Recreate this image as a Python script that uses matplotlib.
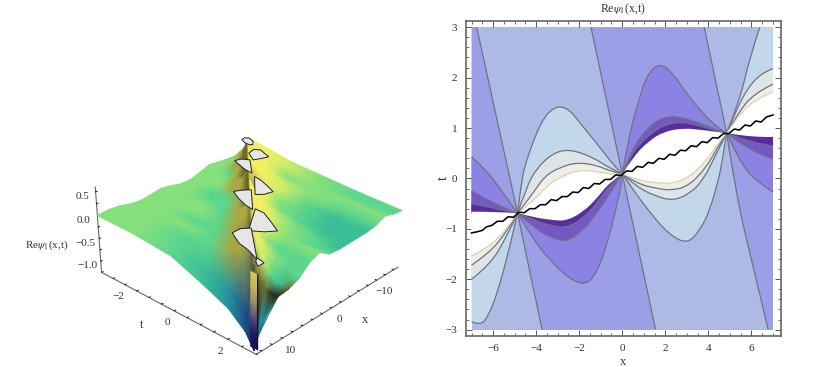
import numpy as np
import matplotlib
matplotlib.use("Agg")
import matplotlib.pyplot as plt
from matplotlib.colors import to_rgb
from matplotlib.path import Path
from matplotlib.patches import PathPatch
from mpl_toolkits.mplot3d import proj3d

plt.rcParams['font.family'] = ['Liberation Serif', 'DejaVu Serif']
plt.rcParams['mathtext.fontset'] = 'stix'
TXT = '#333333'

# ---- left panel: surface heights --------------------------------------
surf_x = [15, 13, 11, 9, 7, 5, 3, 1, -1, -3, -5, -7, -9, -11, -13, -15]
ridge_slope = 0.195
left_f = [0, .25, .5, .7, .85, .95, 1]
right_f = [0, .05, .15, .3, .5, .75, 1]

# t=-3 edge -> ridge
left_z = [
    [0.00, -.02, -.10, -.37, -.60, -.90, -1.20],
    [.02, .00, -.06, -.27, -.45, -.70, -.95],
    [.00, .01, .00, .05, .18, .40, .60],
    [-.06, .02, .02, .05, .15, .40, .60],
    [-.08, .02, .02, .02, .00, -.05, -.05],
    [-.05, .01, .02, .05, .15, .38, .60],
    [-.01, .00, .03, .06, .18, .42, .60],
    [-.05, .04, .03, .03, .04, .08, .10],
    [-.10, .02, .03, .03, .03, .02, .00],
    [-.10, .02, .03, .06, .15, .40, .60],
    [-.03, .01, .04, .08, .20, .42, .60],
    [.05, .04, .05, .06, .08, .10, .10],
    [.02, .04, .05, .08, .12, .18, .25],
    [.00, .03, .06, .12, .22, .42, .60],
    [-.03, .08, .15, .22, .30, .36, .40],
    [.00, .10, .15, .20, .25, .30, .30],
]
left_c = [
    [5, 5, 4, 3, 2, 1, 0],
    [5, 5, 4, 3, 2, 1, 1],
    [5, 5, 4, 4, 8, 8, 9],
    [5, 5, 5, 4, 8, 8, 9],
    [5, 5, 4, 4, 8, 9, 10],
    [5, 5, 5, 4, 8, 8, 9],
    [5, 5, 5, 4, 8, 8, 9],
    [5, 5, 4, 4, 8, 9, 10],
    [5, 5, 4, 4, 8, 9, 10],
    [5, 5, 5, 8, 8, 9, 9],
    [5, 5, 5, 8, 8, 9, 9],
    [5, 5, 4, 8, 9, 9, 10],
    [5, 5, 8, 8, 9, 9, 10],
    [5, 5, 8, 9, 9, 9, 9],
    [5, 8, 8, 9, 9, 9, 9],
    [5, 8, 9, 9, 9, 9, 9],
]
# ridge -> t=3 edge
right_z = [
    [-1.20, -1.20, -1.15, -1.10, -1.05, -1.00, -.95],
    [.30, .00, -.30, -.60, -.75, -.70, -.62],
    [.60, .30, -.10, -.20, -.30, -.33, -.33],
    [.60, .45, .20, .00, -.20, -.30, -.30],
    [.55, .42, .25, .10, -.02, -.10, -.20],
    [.15, .15, .12, .07, .03, .02, .00],
    [.10, .12, .12, .08, .06, .08, .09],
    [.55, .42, .25, .10, .02, -.02, -.05],
    [.60, .42, .25, .10, .02, -.03, -.07],
    [.20, .20, .15, .06, .01, -.03, -.06],
    [.10, .12, .10, .05, .02, -.02, -.05],
    [.55, .42, .25, .10, .03, -.01, -.04],
    [.60, .45, .25, .12, .05, .02, .00],
    [.20, .20, .17, .12, .10, .09, .09],
    [.40, .38, .25, .15, .10, .06, .03],
    [.30, .30, .25, .15, .10, .04, .00],
]
right_c = [
    [0, 0, 0, 0, 1, 1, 1],
    [9, 9, 10, 10, 2, 2, 3],
    [7, 8, 9, 9, 9, 10, 10],
    [7, 7, 6, 6, 4, 3, 9],
    [7, 7, 7, 6, 5, 4, 4],
    [8, 7, 6, 5, 4, 4, 4],
    [8, 7, 7, 6, 5, 5, 5],
    [7, 7, 7, 6, 5, 4, 4],
    [7, 7, 7, 6, 5, 4, 3],
    [8, 7, 7, 5, 4, 3, 3],
    [8, 8, 7, 5, 4, 3, 3],
    [7, 7, 7, 6, 4, 3, 3],
    [7, 7, 7, 6, 5, 4, 4],
    [8, 7, 7, 5, 5, 5, 5],
    [7, 7, 7, 6, 5, 4, 4],
    [7, 7, 7, 6, 5, 4, 4],
]
surf_palette = ['#14124e', '#1c4f86', '#27909c', '#3bbd98', '#5cd68c', '#86e07c',
                '#c8ec6c', '#f2ef62', '#a9a843', '#6d6a2c', '#2b2a1a']

# clipped tops, (x, t) outlines and their height
caps = [
    [(-10.5, -2.31), (-11.3, -2.34), (-11.7, -2.23), (-11.2, -1.98), (-10.3, -1.82), (-9.9, -1.88), (-9.95, -2.08)],
    [(-7.6, -1.48), (-9.1, -1.55), (-9.6, -1.38), (-8.6, -.88), (-7.4, -.96), (-6.3, -1.06)],
    [(-4.3, -1.42), (-5.4, -1.34), (-5.96, -1.13), (-2.9, -.48), (-3.1, -.78), (-3.8, -1.17)],
    [(-2.3, -.27), (-2.1, -.02), (-1.3, .4), (-.5, .75), (.9, .68), (1.8, .51)],
    [(3.1, -.05), (2.0, .07), (1.1, .24), (5.3, 1.07), (5.0, .77), (4.2, .36)],
    [(4.9, 1.09), (5.0, 1.42), (6.3, 1.91), (7.5, 2.34), (8.8, 2.13), (9.96, 1.79)],
    [(10.8, 1.38), (9.25, 1.38), (8.2, 1.56), (13.7, 2.78), (12.7, 2.3), (12.2, 1.89)],
    [(13.85, 2.8), (14.05, 3.0), (14.2, 3.1), (15.3, 3.1), (14.6, 2.9)],
]
cap_z = [.6, .6, .6, .6, .6, .6, .5, .55]
wall_z = [.3, .0, -.3, -.6, -.9, -1.2]
wall_x = [14.5, 14.5]
wall_t = [2.72, 2.95]
wall_colors = ['#d8c850', '#c4b45c', '#98886c', '#5a4a78', '#241c66', '#14124e']

# ---- right panel: contour lines ----------------------------------------
N1 = (-4.86, -.69)
N2 = (0, .09)
N3 = (4.85, .90)

up_a_F = [N1, (-4.67, 0), (-4.44, .36), (-4.06, .825), (-3.59, 1.25), (-3.0, 1.45), (-2.43, 1.36), (-1.96, 1.10), (-1.04, .62), (-.42, .27), N2]
up_a_G = [N1, (-4.44, -.165), (-3.98, .2), (-3.2, .51), (-2.43, .58), (-1.36, .42), (-.57, .2), N2]
up_a_H = [N1, (-4.2, -.33), (-3.6, .05), (-2.89, .22), (-2.1, .32), (-1.17, .26), (-.43, .125), N2]
up_a_W = [N1, (-4.2, -.48), (-3.5, -.15), (-2.89, .03), (-1.96, .175), (-1.04, .125), (-.25, .065), N2]

low_a_C = [N1, (-4.13, -1.22), (-3.36, -1.62), (-2.58, -1.95), (-1.81, -2.12), (-1.27, -1.95), (-.73, -1.36), (-.26, -.56), (0, -.03), N2]
low_a_D = [N1, (-4.13, -.96), (-3.36, -1.17), (-2.58, -1.26), (-1.81, -1.03), (-1.19, -.69), (-.57, -.3), N2]
low_a_E = [N1, (-4.13, -.83), (-3.2, -.95), (-2.58, -.98), (-1.81, -.79), (-1.19, -.5), (-.57, -.13), N2]
low_a_W = [N1, (-4.13, -.77), (-3.2, -.83), (-2.58, -.84), (-1.81, -.66), (-1.19, -.4), (-.57, -.07), N2]

up_b_C = [N2, (.28, .76), (.67, 1.42), (1.13, 2.05), (1.75, 2.3), (2.37, 2.08), (2.99, 1.68), (3.76, 1.29), (4.38, 1.02), N3]
up_b_D = [N2, (.43, .56), (1.13, .99), (1.9, 1.22), (2.6, 1.23), (3.45, 1.12), (4.23, .99), N3]
up_b_E = [N2, (.43, .5), (1.13, .825), (1.9, 1.06), (2.83, 1.13), (3.76, 1.02), N3]
up_b_W = [N2, (.51, .43), (1.2, .73), (1.9, .925), (2.83, 1.0), (3.76, .96), N3]

low_b_F = [N2, (.51, -.23), (1.44, -.76), (2.21, -1.12), (3.02, -1.3), (3.61, -1.03), (4.07, -.63), (4.46, -.03), (4.6, .23), N3]
low_b_G = [N2, (.67, -.17), (1.6, -.36), (2.37, -.44), (3.14, -.3), (3.76, -.03), (4.3, .43), N3]
low_b_H = [N2, (.67, -.1), (1.6, -.2), (2.37, -.24), (3.14, -.13), (3.92, .23), (4.38, .59), N3]
low_b_W = [N2, (.67, -.03), (1.6, -.09), (2.37, -.1), (3.14, .03), (3.92, .36), (4.38, .66), N3]

left_F = [N1, (-5.22, -1.36), (-5.76, -2.22), (-6.22, -2.74), (-6.6, -2.92), (-7, -2.84)]
left_G = [N1, (-5.37, -1.16), (-6.15, -1.72), (-7, -2.0)]
left_H = [N1, (-5.45, -1.12), (-6.3, -1.52), (-7, -1.72)]
left_W = [N1, (-5.45, -1.06), (-6.3, -1.39), (-7, -1.54)]
left_B = [(-6.76, 3), (-5.81, 1.155), N1]
left_C = [(-7, .43), (-6.3, .165), (-5.68, -.2), N1]
left_D = [(-7, -.245), (-5.99, -.5), N1]
left_E = [(-7, -.5), (-5.82, -.6), N1]
left_EW = [(-7, -.66), (-5.68, -.66), N1]

right_F = [N3, (5.46, 1.55), (5.93, 2.41), (6.39, 3)]
right_G = [N3, (5.23, 1.29), (5.85, 1.82), (6.55, 2.11), (7, 2.18)]
right_H = [N3, (5.31, 1.25), (6.08, 1.68), (7, 1.87)]
right_W = [N3, (5.31, 1.19), (6.08, 1.55), (7, 1.72)]
right_C = [N3, (5.5, .3), (6.2, -.05), (7, -.27)]
right_D = [N3, (6.08, .495), (7, .39)]
right_E = [N3, (6.08, .69), (7, .647)]
right_EW = [N3, (6.08, .81), (7, .825)]

line_A_top = [(-1.45, 3), (-.73, 1.55), N2]
line_B_top = [(3.81, 3), (4.33, 1.95), N3]
line_A_low = [N1, (-4.3, -1.85), (-3.72, -3)]
line_B_low = [N2, (.78, -1.46), (1.55, -3)]
line_C_low = [N3, (5.3, -.36), (6.05, -1.7), (6.78, -3)]

ridge_x = [-7.0, -6.75, -6.5, -6.3, -6.05, -5.8, -5.55, -5.3, -5.05, -4.8, -4.55, -4.3, -4.05, -3.8, -3.55,
           -3.3, -3.05, -2.8, -2.55, -2.3, -2.05, -1.8, -1.55, -1.3, -1.05, -.8, -.55, -.3, -.05, .2, .45,
           .7, .95, 1.2, 1.45, 1.7, 1.95, 2.2, 2.45, 2.7, 2.95, 3.2, 3.45, 3.7, 3.95, 4.2, 4.45, 4.7, 4.95,
           5.2, 5.45, 5.7, 5.95, 6.2, 6.45, 6.7, 7.0]
ridge_t = [-1.08, -1.06, -1.03, -.96, -.93, -.85, -.85, -.76, -.77, -.67, -.68, -.60, -.6, -.52, -.52,
           -.42, -.44, -.36, -.36, -.27, -.28, -.18, -.2, -.1, -.11, -.02, -.02, .07, .06, .15, .14,
           .24, .22, .32, .3, .4, .38, .48, .46, .56, .55, .65, .63, .73, .71, .81, .8, .89, .89,
           .98, .96, 1.06, 1.04, 1.14, 1.12, 1.22, 1.26]

COL_A = '#aebae6'
COL_B = '#9c9fe6'
COL_C = '#8b82e3'
COL_D = '#7558c4'
COL_E = '#5a2ca3'
COL_F = '#c2d7ea'
COL_G = '#dfe4e6'
COL_H = '#f0eee6'


def curve_path(points):
    # quadratic segments with the read points as control points
    pts = np.array(points, dtype=float)
    verts = [pts[0]]
    codes = [Path.MOVETO]
    for i in range(1, len(pts) - 1):
        end = pts[i + 1] if i == len(pts) - 2 else (pts[i] + pts[i + 1]) / 2
        verts += [pts[i], end]
        codes += [Path.CURVE3, Path.CURVE3]
    if len(pts) == 2:
        verts.append(pts[1])
        codes.append(Path.LINETO)
    return verts, codes


def fill_curve(ax, points, color, extra=(), second=None):
    verts, codes = curve_path(points)
    if second is not None:
        v2, c2 = curve_path(second)
        verts += v2
        codes += [Path.LINETO] + c2[1:]
    for p in extra:
        verts.append(p)
        codes.append(Path.LINETO)
    verts.append(verts[0])
    codes.append(Path.CLOSEPOLY)
    ax.add_patch(PathPatch(Path(verts, codes), facecolor=color, edgecolor='none', lw=0, zorder=2))


def draw_line(ax, points, color='#6e7385', lw=0.9):
    verts, codes = curve_path(points)
    ax.add_patch(PathPatch(Path(verts, codes), facecolor='none', edgecolor=color, lw=lw, zorder=3))


def draw_contours(ax):
    ax.fill([-7, 7, 7, -7], [-3, -3, 3, 3], color=COL_A, lw=0, zorder=1)

    # purple side, outer to inner
    fill_curve(ax, left_B, COL_B, [(-7, -.7), (-7, 3)])
    fill_curve(ax, line_B_low, COL_B, [(-3.72, -3), N1])
    fill_curve(ax, line_A_top, COL_B, [N3, (3.81, 3)])
    fill_curve(ax, line_C_low, COL_B, [(7, -3), (7, .9)])
    for curve, col in [(left_C, COL_C), (left_D, COL_D), (left_E, COL_E)]:
        fill_curve(ax, curve, col, [(-7, -.7)])
    for curve, col in [(right_C, COL_C), (right_D, COL_D), (right_E, COL_E)]:
        fill_curve(ax, curve, col, [(7, .9)])
    for curve, col in [(low_a_C, COL_C), (low_a_D, COL_D), (low_a_E, COL_E),
                       (up_b_C, COL_C), (up_b_D, COL_D), (up_b_E, COL_E)]:
        fill_curve(ax, curve, col)

    # pale side
    for curve, col in [(up_a_F, COL_F), (up_a_G, COL_G), (up_a_H, COL_H),
                       (low_b_F, COL_F), (low_b_G, COL_G), (low_b_H, COL_H)]:
        fill_curve(ax, curve, col)
    for curve, col in [(left_F, COL_F), (left_G, COL_G), (left_H, COL_H)]:
        fill_curve(ax, curve, col, [(-7, -.7)])
    fill_curve(ax, right_F, COL_F, [(7, 3), (7, .9)])
    for curve, col in [(right_G, COL_G), (right_H, COL_H)]:
        fill_curve(ax, curve, col, [(7, .9)])

    # clipped band
    fill_curve(ax, up_a_W, 'white', second=low_a_W[::-1])
    fill_curve(ax, up_b_W, 'white', second=low_b_W[::-1])
    fill_curve(ax, left_W, 'white', second=left_EW)
    fill_curve(ax, right_W, 'white', second=right_EW[::-1])

    for curve in [up_a_F, up_a_G, up_a_H, low_a_C, low_a_D, low_a_E, up_b_C, up_b_D, up_b_E,
                  low_b_F, low_b_G, low_b_H, left_F, left_G, left_H, left_B, left_C, left_D, left_E,
                  right_F, right_G, right_H, right_C, right_D, right_E,
                  line_A_top, line_B_top, line_A_low, line_B_low, line_C_low]:
        draw_line(ax, curve)
    for curve in [up_a_W, low_b_W, left_W, right_W]:
        draw_line(ax, curve, color='#d8cfa8', lw=0.8)

    ax.plot(ridge_x, ridge_t, color='black', lw=1.15, zorder=4)


def style_right(ax):
    ax.set_xlim(-7.27, 7.36)
    ax.set_ylim(-3.12, 3.13)
    ax.set_xticks([-6, -4, -2, 0, 2, 4, 6])
    ax.set_yticks([-3, -2, -1, 0, 1, 2, 3])
    ax.set_xticks(np.arange(-7, 7.01, .5), minor=True)
    ax.set_yticks(np.arange(-3, 3.01, .2), minor=True)
    ax.tick_params(which='major', direction='in', length=4, width=.7, color='#555555',
                   top=True, right=True, labelsize=8, labelcolor=TXT, pad=6)
    ax.tick_params(which='minor', direction='in', length=2, width=.6, color='#555555',
                   top=True, right=True)
    for sp in ax.spines.values():
        sp.set_color('#666666')
        sp.set_linewidth(1.2)
    ax.set_xlabel('x', fontsize=9, color=TXT, labelpad=2)
    ax.set_ylabel('t', fontsize=10, color=TXT, labelpad=-3)
    ax.set_title(r'Re$\psi_1$(x,t)', fontsize=8.5, color=TXT, pad=6)


def side_mesh(z_table, c_table, fracs, side):
    # returns x, t, z, rgb arrays ordered back to front
    xs = np.array(surf_x, dtype=float)[::-1]
    f = np.array(fracs)
    X = np.repeat(xs[:, None], len(f), axis=1)
    ridge = ridge_slope * X
    if side == 'left':
        T = -3 + f[None, :] * (ridge + 3)
    else:
        T = ridge + f[None, :] * (3 - ridge)
    Z = np.array(z_table, dtype=float)[::-1]
    rgb = np.array([[to_rgb(surf_palette[c]) for c in row] for row in c_table[::-1]])
    return X, T, Z, rgb


def draw_surface(fig, ax3d):
    over = fig.add_axes([0, 0, 1, 1], facecolor='none')
    over.axis('off')
    M = ax3d.get_proj()
    pieces = [side_mesh(left_z, left_c, left_f, 'left'),
              side_mesh(right_z, right_c, right_f, 'right')]
    for X, T, Z, rgb in pieces:
        px, py, _ = proj3d.proj_transform(X.ravel(), T.ravel(), Z.ravel(), M)
        over.pcolormesh(px.reshape(X.shape), py.reshape(X.shape), rgb, shading='gouraud',
                        transform=ax3d.transData)

    # front wall of the pole, dark seam on its right side
    WX = np.array([wall_x] * len(wall_z))
    WT = np.array([wall_t] * len(wall_z))
    WZ = np.array([[z, z] for z in wall_z])
    wall_rgb = np.array([[to_rgb(c), to_rgb(c)] for c in wall_colors])
    px, py, _ = proj3d.proj_transform(WX.ravel(), WT.ravel(), WZ.ravel(), M)
    px, py = px.reshape(WX.shape), py.reshape(WX.shape)
    over.pcolormesh(px, py, wall_rgb, shading='gouraud', transform=ax3d.transData)
    over.plot(px[:, 1], py[:, 1], color='#14141e', lw=1, transform=ax3d.transData)

    for cap, z in zip(caps, cap_z):
        pts = np.array(cap)
        px, py, _ = proj3d.proj_transform(pts[:, 0], pts[:, 1], np.full(len(pts), z), M)
        over.fill(px, py, facecolor='#e6e6e6', edgecolor='#222222', lw=.7,
                  transform=ax3d.transData, clip_on=False)
    over.set_xlim(0, 1)
    over.set_ylim(0, 1)


def style_3d(ax):
    ax.set_proj_type('persp', focal_length=.55)
    ax.view_init(elev=28, azim=43)
    ax.set_box_aspect((1, 1, .45), zoom=.84)
    ax.set_xlim(-15, 15)
    ax.set_ylim(-3, 3)
    ax.set_zlim(-1.25, .6)
    ax.grid(False)
    for a in (ax.xaxis, ax.yaxis, ax.zaxis):
        a.set_pane_color((1, 1, 1, 0))
        a.pane.set_edgecolor((1, 1, 1, 0))
        a.line.set_color('#666666')
        a.line.set_linewidth(.8)
        a._axinfo['tick']['inward_factor'] = 0
        a._axinfo['tick']['outward_factor'] = .12
        a._axinfo['tick']['color'] = '#666666'
        a._axinfo['tick']['linewidth'] = {True: .6, False: .5}
    ax.zaxis.set_ticks_position('lower')
    ax.zaxis.set_label_position('lower')
    ax.set_xticks(np.arange(-14, 15, 2))
    ax.set_xticklabels(['\u221210' if v == -10 else '0' if v == 0 else '10' if v == 10 else ''
                        for v in np.arange(-14, 15, 2)])
    ax.set_yticks(np.arange(-3, 3.01, .5))
    ax.set_yticklabels(['\u22122' if v == -2 else '0' if v == 0 else '2' if v == 2 else ''
                        for v in np.arange(-3, 3.01, .5)])
    ax.set_zticks([-1, -.75, -.5, -.25, 0, .25, .5])
    ax.set_zticklabels(['\u22121.0', '', '\u22120.5', '', '0.0', '', '0.5'])
    ax.tick_params(labelsize=8, labelcolor=TXT, pad=-2)


fig = plt.figure(figsize=(8.18, 3.67), dpi=100)

ax3d = fig.add_axes([.02, -.135, .56, 1], projection='3d')
ax3d.patch.set_alpha(0)
style_3d(ax3d)
draw_surface(fig, ax3d)
fig.text(.0305, .332, r'Re$\psi_1$(x,t)', fontsize=8, color=TXT, va='center')
fig.text(142 / 818, 1 - 325 / 367, 't', fontsize=9, color=TXT, ha='center', va='center')
fig.text(365 / 818, 1 - 320 / 367, 'x', fontsize=9, color=TXT, ha='center', va='center')

ax = fig.add_axes([465.7 / 818, 1 - 335.7 / 367, 315 / 818, 315 / 367])
draw_contours(ax)
style_right(ax)

fig.savefig('out.png', dpi=100)
